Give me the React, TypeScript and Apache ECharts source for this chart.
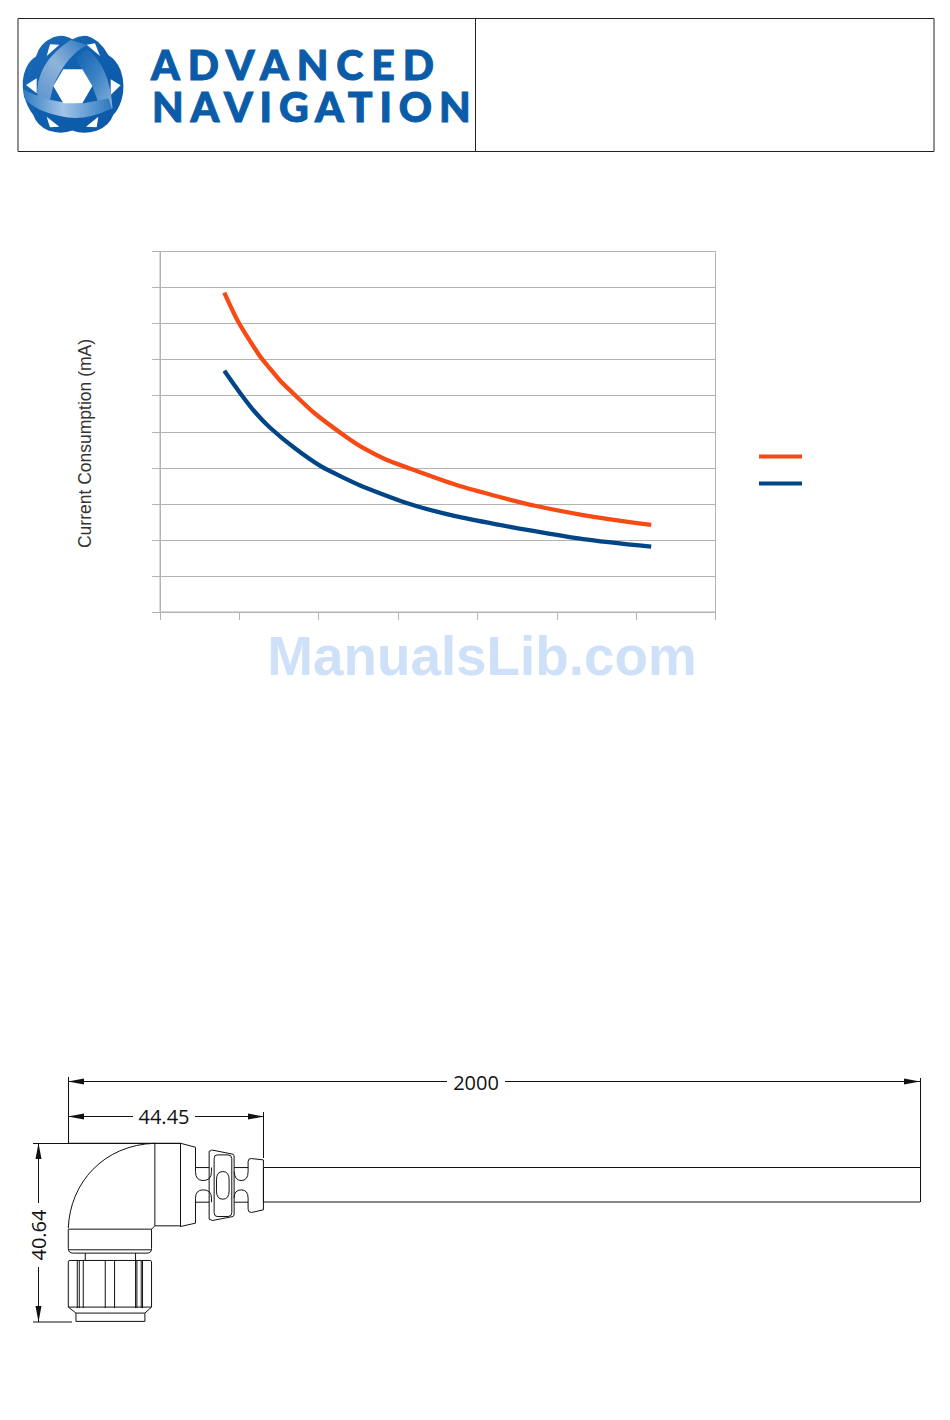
import React, { useEffect, useRef } from "react";
import * as echarts from "echarts";

const upperVoltage = [4.05, 4.93, 6.29, 6.82, 7.56, 8.39, 9.76, 11.65, 12.8, 14.16, 15.74, 18.68, 21.4, 23.71, 26.65, 30.95];
const upperCurrent = [443, 402.6, 355, 340.5, 321.1, 303.3, 275.3, 244.1, 227.5, 212.2, 199, 176.1, 159.5, 147, 134.5, 120.7];
const lowerVoltage = [4.05, 5.14, 5.98, 6.92, 8.5, 10.18, 11.65, 12.8, 15.74, 18.68, 21.4, 23.71, 26.65, 30.95];
const lowerCurrent = [334.7, 301, 277.4, 255.9, 227, 201.5, 185.4, 173.8, 149.8, 132.5, 120.7, 111.7, 101.2, 90.6];
const seriesNames = ["Upper", "Lower"];
const yAxisTitle = "Current Consumption (mA)";
const logoWords = ["ADVANCED", "NAVIGATION"];
const dimensions = ["2000", "44.45", "40.64"];
const watermark = "ManualsLib.com";

const LOGO_BLUE_A = "#0a5ca8";
const LOGO_BLUE_B = "#0a5ca9";

const logoBase =
  "M217 118 Q240 105 262 108 Q300 118 325 165 Q350 180 362 210 Q378 256 365 300 Q355 330 340 345 Q328 378 290 393 Q250 405 217 392 Q185 405 145 392 Q110 375 100 345 Q80 320 72 285 Q62 240 78 205 Q90 180 108 170 Q118 130 160 112 Q190 100 217 118 Z";
const logoBandBottom =
  "M70 268 Q150 312 250 310 L326 296 L336 325 Q250 368 180 348 Q100 332 72 292 Z";
const logoBandLeft =
  "M112 292 Q105 190 212 120 L262 135 Q200 165 160 258 L150 300 Z";
const logoBandRight =
  "M222 170 L262 148 Q330 200 338 325 L305 335 L277 258 Z";

const connector =
  "M145 505 C150 370 250 255 405 250 " +
  "M145 250 L482 250 L527 262 L527 335 Q527 362 550 362 Q575 362 575 335 L575 323 " +
  "M527 323 L568 323 M643 323 L685 323 " +
  "M527 427 L568 427 M643 427 L685 427 " +
  "M405 250 L405 498 M482 250 L482 500 L527 490 L527 415 Q527 390 550 390 Q575 390 575 415 L575 427 " +
  "M405 498 L395 508 L145 508 M405 498 L482 498 " +
  "M145 508 L145 566 Q145 580 160 580 L382 580 Q395 580 395 566 L395 508 M145 570 L395 570 " +
  "M196 580 L196 602 M347 580 L347 602 " +
  "M145 606 Q145 602 150 602 L390 602 Q395 602 395 606 L395 742 L375 760 L375 785 L168 785 L168 760 L145 742 Z " +
  "M145 742 L395 742 M168 760 L375 760 " +
  "M172 602 L172 745 M178 602 L178 745 M190 602 L190 745 M256 602 L256 745 M284 602 L284 745 " +
  "M347 602 L347 745 M351 602 L351 745 M364 602 L364 745 M368 602 L368 745 " +
  "M575 272 L568 274 L568 478 L578 482 L640 470 L643 465 L643 288 L640 283 L575 270 " +
  "M592 285 L625 285 Q636 285 636 296 L636 458 Q636 470 625 470 L592 470 Q583 470 583 458 L583 296 Q583 285 592 285 Z " +
  "M590 360 Q590 335 609 335 Q628 335 628 360 L628 393 Q628 418 609 418 Q590 418 590 393 Z " +
  "M643 335 Q645 362 664 362 Q685 362 685 335 L685 305 Q685 295 695 296 L731 300 L731 450 L695 458 Q685 458 685 448 L685 415 Q685 390 664 390 Q643 390 643 415 " +
  "M731 323 L731 427";

echarts.graphic.registerShape("logoBase", echarts.graphic.extendPath(logoBase, {}) as any);
echarts.graphic.registerShape("logoBandBottom", echarts.graphic.extendPath(logoBandBottom, {}) as any);
echarts.graphic.registerShape("logoBandLeft", echarts.graphic.extendPath(logoBandLeft, {}) as any);
echarts.graphic.registerShape("logoBandRight", echarts.graphic.extendPath(logoBandRight, {}) as any);
echarts.graphic.registerShape("connector", echarts.graphic.extendPath(connector, {}) as any);

const grad = (x: number, y: number, x2: number, y2: number, stops: [number, string][]) =>
  new echarts.graphic.LinearGradient(
    x, y, x2, y2,
    stops.map(([offset, color]) => ({ offset, color })),
  );

const hLine = (x1: number, x2: number, y: number) => ({
  type: "line", shape: { x1, y1: y, x2, y2: y }, style: { stroke: "#111", lineWidth: 1 },
});
const vLine = (x: number, y1: number, y2: number) => ({
  type: "line", shape: { x1: x, y1, x2: x, y2 }, style: { stroke: "#111", lineWidth: 1 },
});
const arrow = (pts: number[][]) => ({ type: "polygon", shape: { points: pts }, style: { fill: "#111" } });
const logoHole = (points: number[][]) => ({
  type: "polygon", shape: { points: points.map(([x, y]) => [x / 3, y / 3]) }, style: { fill: "#fff" },
});
const logoShape = (type: string, fill: any) => ({
  type, x: 0, y: 0, scaleX: 1 / 3, scaleY: 1 / 3, style: { fill },
});
const dimText = (text: string, x: number, y: number, rotation = 0) => ({
  type: "text", x, y, rotation,
  style: {
    text, fill: "#111", fontFamily: "Open Sans", fontSize: 20,
    align: "center", verticalAlign: "middle",
  },
});

export default function App() {
  const ref = useRef<HTMLDivElement>(null);
  useEffect(() => {
    const chart = echarts.init(ref.current!, undefined, { renderer: "svg" });
    chart.setOption({
      animation: false,
      backgroundColor: "#fff",
      legend: {
        show: true, orient: "vertical", left: 754, top: 449.5,
        itemWidth: 43, itemHeight: 4, itemGap: 23, icon: "rect",
        formatter: () => "",
        data: seriesNames,
      },
      grid: {
        left: 160, top: 251.5, width: 555.5, height: 360.5,
        show: true, borderColor: "#b3b3b3", borderWidth: 1, backgroundColor: "transparent",
      },
      xAxis: {
        type: "value", min: 0, max: 35, interval: 5,
        axisLine: { lineStyle: { color: "#b3b3b3" } },
        axisTick: { show: true, length: 8, lineStyle: { color: "#b3b3b3" } },
        axisLabel: { show: false },
        splitLine: { show: false },
      },
      yAxis: {
        type: "value", min: 0, max: 500, interval: 50,
        axisLine: { show: true, lineStyle: { color: "#b3b3b3" } },
        axisTick: { show: true, length: 8, lineStyle: { color: "#b3b3b3" } },
        axisLabel: { show: false },
        splitLine: { show: true, lineStyle: { color: "#b3b3b3", width: 1 } },
      },
      series: [
        {
          name: seriesNames[0], type: "line", smooth: 0.25, showSymbol: false,
          data: upperVoltage.map((v, i) => [v, upperCurrent[i]]),
          lineStyle: { color: "#f74a14", width: 4.3, cap: "butt" }, itemStyle: { color: "#f74a14" },
        },
        {
          name: seriesNames[1], type: "line", smooth: 0.25, showSymbol: false,
          data: lowerVoltage.map((v, i) => [v, lowerCurrent[i]]),
          lineStyle: { color: "#004586", width: 4.3, cap: "butt" }, itemStyle: { color: "#004586" },
        },
      ],
      graphic: [
        { type: "rect", shape: { x: 18, y: 18.5, width: 916, height: 133 }, style: { fill: "none", stroke: "#222", lineWidth: 1 } },
        { type: "line", shape: { x1: 475.5, y1: 18.5, x2: 475.5, y2: 151.5 }, style: { stroke: "#222", lineWidth: 1 } },
        logoShape("logoBase", grad(0, 0, 1, 1, [[0, "#1b6cb8"], [0.5, "#0f5fae"], [1, "#0b58a6"]])),
        logoHole([[140, 168], [150, 133], [178, 134]]),
        logoHole([[260, 134], [285, 130], [300, 168]]),
        logoHole([[78, 255], [110, 235], [110, 280]]),
        logoHole([[332, 238], [362, 256], [332, 285]]),
        logoHole([[140, 350], [178, 380], [150, 382]]),
        logoHole([[258, 380], [295, 350], [290, 382]]),
        logoShape("logoBandLeft", grad(0, 1, 1, 0, [[0, "#5b93cd"], [0.5, "#8fb4da"], [1, "#2a78c0"]])),
        logoShape("logoBandRight", grad(0, 0, 1, 1, [[0, "#0f5fae"], [0.5, "#3a82c4"], [1, "#8db4dd"]])),
        logoShape("logoBandBottom", grad(0, 0, 1, 0, [[0, "#2f7cc2"], [0.45, "#a3c3e6"], [1, "#2a78c0"]])),
        logoHole([[160, 258], [190, 208], [247, 208], [277, 258], [247, 310], [190, 310]]),
        {
          type: "text", x: 151, y: 64.5,
          style: { text: logoWords[0], fill: LOGO_BLUE_A, stroke: LOGO_BLUE_A, lineWidth: 1, fontFamily: "Lato", fontWeight: 900, fontSize: 41, verticalAlign: "middle" },
        },
        {
          type: "text", x: 152, y: 106.5,
          style: { text: logoWords[1], fill: LOGO_BLUE_B, stroke: LOGO_BLUE_B, lineWidth: 1, fontFamily: "Lato", fontWeight: 900, fontSize: 41, verticalAlign: "middle" },
        },
        {
          type: "text", x: 85, y: 443.5, rotation: Math.PI / 2,
          style: { text: yAxisTitle, fill: "#333", fontFamily: "Liberation Sans", fontSize: 17.5, align: "center", verticalAlign: "middle" },
        },
        {
          type: "text", x: 482, y: 656,
          style: { text: watermark, fill: "#cfe1f8", fontFamily: "Liberation Sans", fontWeight: 700, fontSize: 54.8, align: "center", verticalAlign: "middle" },
        },
        { type: "connector", x: 20, y: 1060, scaleX: 1 / 3, scaleY: 1 / 3, style: { fill: "none", stroke: "#111", lineWidth: 3 } },
        // cable
        hLine(264, 920, 1167.5), hLine(264, 920, 1202), vLine(920.5, 1078, 1202),
        // 2000 dimension
        vLine(68.5, 1077, 1143), hLine(68, 447, 1081.5), hLine(505, 920, 1081.5),
        arrow([[68, 1081.5], [84, 1078.5], [84, 1084.5]]), arrow([[920, 1081.5], [904, 1078.5], [904, 1084.5]]),
        dimText(dimensions[0], 476, 1082),
        // 44.45 dimension
        hLine(68, 133, 1116.5), hLine(195, 264, 1116.5), vLine(263.5, 1112, 1158),
        arrow([[68, 1116.5], [84, 1113.5], [84, 1119.5]]), arrow([[264, 1116.5], [248, 1113.5], [248, 1119.5]]),
        dimText(dimensions[1], 164, 1116),
        // 40.64 dimension
        hLine(33, 180, 1143.5), hLine(33, 72, 1322), vLine(38.5, 1143, 1203), vLine(38.5, 1267, 1322),
        arrow([[38.5, 1143], [35.5, 1159], [41.5, 1159]]), arrow([[38.5, 1322], [35.5, 1306], [41.5, 1306]]),
        dimText(dimensions[2], 38, 1235, Math.PI / 2),
      ],
    });
    return () => chart.dispose();
  }, []);
  return (
    <>
      <style>{`body{margin:0} #chart text[fill="${LOGO_BLUE_A}"]{letter-spacing:7.9px} #chart text[fill="${LOGO_BLUE_B}"]{letter-spacing:6.9px}`}</style>
      <div id="chart" ref={ref} style={{ position: "absolute", left: 0, top: 0, width: 950, height: 1420 }} />
    </>
  );
}
